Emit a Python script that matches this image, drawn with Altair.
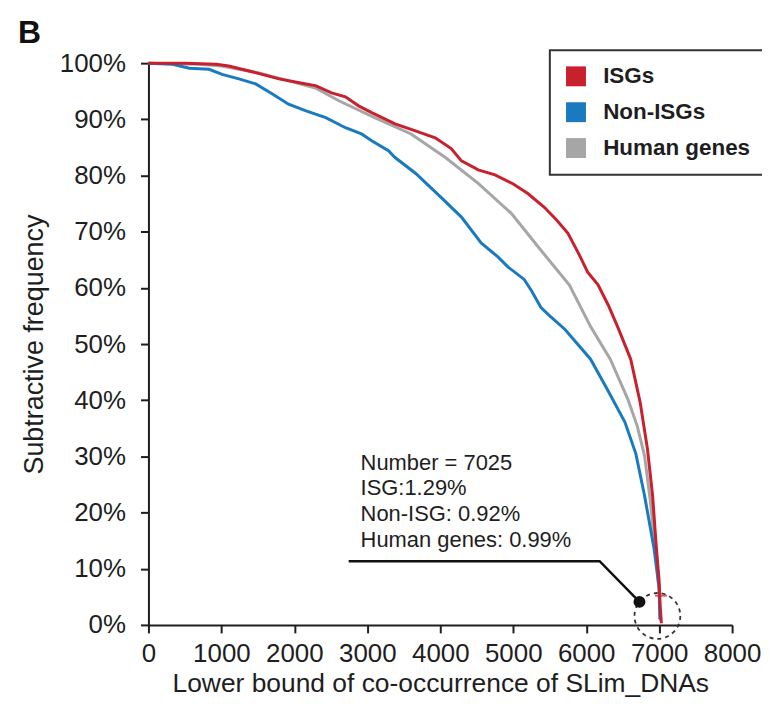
import altair as alt
import pandas as pd

FONT = "Liberation Sans"
TXT = "#1e1e1e"

x_ticks = list(range(0, 8001, 1000))
y_ticks = list(range(0, 101, 10))

series_names = ["ISGs", "Non-ISGs", "Human genes"]
series_colors = ["#c8202c", "#1a7abf", "#a6a6a6"]

isg_x = [0, 500, 930, 1100, 1380, 1790, 2160, 2290, 2510, 2700, 2880, 3060, 3380, 3650, 3930,
         4150, 4290, 4520, 4750, 5000, 5200, 5430, 5600, 5750, 5900, 6020, 6160, 6300, 6430, 6610,
         6740, 6840, 6910, 6960, 7000, 7015, 7025, 7030]
isg_y = [100, 100, 99.8, 99.5, 98.6, 97.2, 96.3, 96.0, 94.7, 94.0, 92.4, 91.2, 89.2, 88.0, 86.7,
         84.8, 82.6, 81.0, 80.1, 78.5, 76.8, 74.3, 72.0, 69.7, 66.0, 62.8, 60.6, 57.0, 53.1, 47.3,
         39.6, 31.3, 23.0, 14.0, 7.8, 3.0, 1.3, 0.3]

non_x = [0, 330, 560, 830, 1010, 1240, 1470, 1700, 1920, 2160, 2430, 2700, 2920, 3060, 3290,
         3380, 3660, 4010, 4290, 4560, 4790, 4930, 5150, 5250, 5380, 5500, 5710, 6060, 6290, 6530,
         6680, 6800, 6930, 7000, 7010]
non_y = [100, 99.8, 99.1, 98.9, 98.0, 97.2, 96.3, 94.5, 92.7, 91.5, 90.3, 88.5, 87.4, 86.2, 84.4,
         83.2, 80.4, 76.1, 72.6, 68.0, 65.5, 63.7, 61.5, 59.5, 56.5, 55.0, 52.6, 47.3, 41.9, 36.1,
         30.5, 23.0, 13.6, 6.5, 1.0]

hum_x = [0, 700, 1000, 1500, 2000, 2300, 2610, 3100, 3600, 4070, 4520, 4970, 5360, 5770, 6060,
         6330, 6570, 6700, 6800, 6880, 6950, 7000, 7015]
hum_y = [100, 99.8, 99.5, 98.3, 96.6, 95.5, 93.3, 90.3, 87.4, 83.2, 78.6, 73.3, 67.0, 60.5, 53.1,
         47.3, 40.2, 35.4, 30.1, 22.0, 13.0, 6.0, 0.8]

note_lines = ["Number = 7025", "ISG:1.29%", "Non-ISG: 0.92%", "Human genes: 0.99%"]
note_x = [2908, 2908, 2908, 2908]
note_y = [28.9, 24.3, 19.7, 15.2]

leader_x = [2744, 6184, 6730]
leader_y = [11.35, 11.35, 4.1]
dot_x = [6730]
dot_y = [4.1]
ring_x = [6976]
ring_y = [1.6]
cross_x = [7025]
cross_y = [5.2]

panel_label = ["B"]

xscale = alt.Scale(domain=[0, 8000], nice=False)
yscale = alt.Scale(domain=[0, 100], nice=False)

xaxis = alt.Axis(values=x_ticks, format="d", title="Lower bound of co-occurrence of SLim_DNAs",
                 grid=False, tickSize=8, tickWidth=2, tickColor=TXT, domainColor=TXT,
                 domainWidth=2, labelFont=FONT, labelFontSize=26, labelColor=TXT,
                 labelPadding=8, titleFont=FONT, titleFontSize=26.5, titleFontWeight="normal",
                 titleColor=TXT, titlePadding=4, labelFlush=False, labelOverlap=False)
yaxis = alt.Axis(values=y_ticks, labelExpr="datum.value + '%'", title="Subtractive frequency",
                 grid=False, tickSize=8, tickWidth=2, tickColor=TXT, domainColor=TXT,
                 domainWidth=2, labelFont=FONT, labelFontSize=26, labelColor=TXT,
                 labelPadding=15, titleFont=FONT, titleFontSize=27, titleFontWeight="normal",
                 titleColor=TXT, titlePadding=11, labelFlush=False, labelOverlap=False)

def enc(ch):
    return ch.encode(x=alt.X("x:Q", scale=xscale, axis=xaxis),
                     y=alt.Y("y:Q", scale=yscale, axis=yaxis))

df_hum = pd.DataFrame({"x": hum_x, "y": hum_y, "i": range(len(hum_x))})
df_non = pd.DataFrame({"x": non_x, "y": non_y, "i": range(len(non_x))})
df_isg = pd.DataFrame({"x": isg_x, "y": isg_y, "i": range(len(isg_x))})

line_hum = enc(alt.Chart(df_hum).mark_line(color=series_colors[2], strokeWidth=3)).encode(order="i:Q")
line_non = enc(alt.Chart(df_non).mark_line(color=series_colors[1], strokeWidth=3)).encode(order="i:Q")
line_isg = enc(alt.Chart(df_isg).mark_line(color=series_colors[0], strokeWidth=3)).encode(order="i:Q")

df_leg = pd.DataFrame({"x": [isg_x[-1], non_x[-1], hum_x[-1]],
                       "y": [isg_y[-1], non_y[-1], hum_y[-1]],
                       "series": series_names})
legend_layer = enc(alt.Chart(df_leg).mark_square(size=1, opacity=0, filled=True)).encode(
    fill=alt.Fill("series:N", scale=alt.Scale(domain=series_names, range=series_colors),
                  legend=alt.Legend(orient="none", legendX=403, legendY=-13, title=None,
                                    symbolType="square", symbolSize=400, symbolOpacity=1,
                                    symbolStrokeWidth=0, labelFont=FONT, labelFontSize=22.5,
                                    labelFontWeight="bold", labelColor=TXT, labelOffset=16,
                                    rowPadding=13, padding=15, strokeColor="#333",
                                    fillColor="white")))

df_lead = pd.DataFrame({"x": leader_x, "y": leader_y, "i": range(len(leader_x))})
leader = enc(alt.Chart(df_lead).mark_line(color="#111", strokeWidth=2.5)).encode(order="i:Q")

dot = enc(alt.Chart(pd.DataFrame({"x": dot_x, "y": dot_y})).mark_point(
    filled=True, color="#111", size=144, opacity=1))
ring = enc(alt.Chart(pd.DataFrame({"x": ring_x, "y": ring_y})).mark_point(
    filled=False, color="#333", size=2116, strokeWidth=1.8, strokeDash=[4, 4], opacity=1))
cross = enc(alt.Chart(pd.DataFrame({"x": cross_x, "y": cross_y})).mark_tick(
    orient="horizontal", color=series_colors[0], size=12, thickness=2))

df_note = pd.DataFrame({"x": note_x, "y": note_y, "t": note_lines})
note = enc(alt.Chart(df_note).mark_text(align="left", baseline="middle", font=FONT,
                                         fontSize=22, color=TXT)).encode(text="t:N")

label_b = alt.Chart(pd.DataFrame({"t": panel_label})).mark_text(
    align="left", baseline="alphabetic", font=FONT, fontSize=32, fontWeight="bold", color="#111"
).encode(x=alt.value(-131), y=alt.value(-20), text="t:N")

chart = alt.layer(line_hum, line_non, line_isg, legend_layer, leader, ring, dot, cross, note,
                  label_b).properties(
    width=586, height=564,
    autosize=alt.AutoSizeParams(type="none"),
    padding={"left": 141, "top": 54, "right": 30, "bottom": 72},
).configure_view(stroke=None).configure_legend(strokeWidth=2)

chart.save("out.html", embed_options={"renderer": "svg", "actions": False})
